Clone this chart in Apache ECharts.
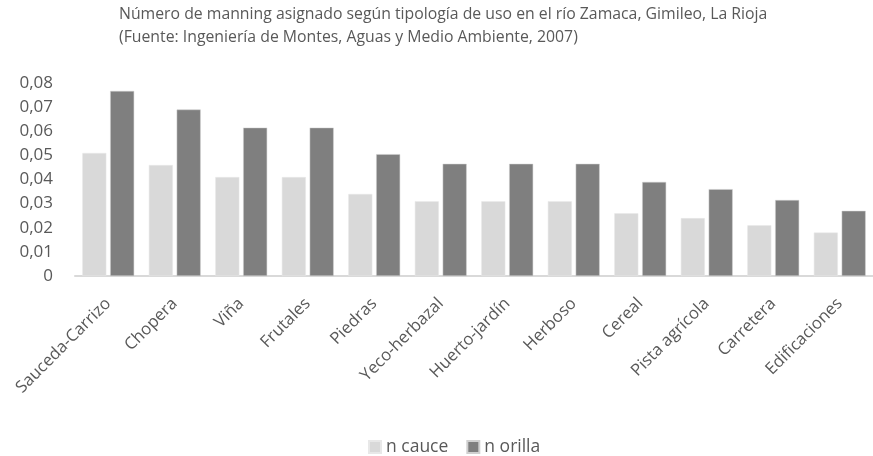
<!DOCTYPE html>
<html>
<head>
<meta charset="utf-8">
<script src="https://cdn.jsdelivr.net/npm/echarts@6/dist/echarts.min.js"></script>
<style>
  html, body { margin: 0; padding: 0; background: #fff; }
  #chart { width: 873px; height: 456px; }
</style>
</head>
<body>
<div id="chart"></div>
<script>
// datos
var categorias = ['Sauceda-Carrizo', 'Chopera', 'Viña', 'Frutales', 'Piedras', 'Yeco-herbazal',
  'Huerto-jardín', 'Herboso', 'Cereal', 'Pista agrícola', 'Carretera', 'Edificaciones'];
var nCauce = [0.051, 0.046, 0.041, 0.041, 0.034, 0.031, 0.031, 0.031, 0.026, 0.024, 0.021, 0.018];
var nOrilla = [0.0767, 0.069, 0.0615, 0.0615, 0.0505, 0.0465, 0.0465, 0.0465, 0.039, 0.036, 0.0315, 0.027];
var yTicks = [0, 0.01, 0.02, 0.03, 0.04, 0.05, 0.06, 0.07, 0.08];

var FONT = '"Open Sans", Lato, sans-serif';
var TXT = '#595959';

var myChart = echarts.init(document.getElementById('chart'));

var option = {
  animation: false,
  textStyle: { fontFamily: FONT },
  title: {
    text: 'Número de manning asignado según tipología de uso en el río Zamaca, Gimileo, La Rioja\n(Fuente: Ingeniería de Montes, Aguas y Medio Ambiente, 2007)',
    left: 114,
    top: -2,
    textStyle: { fontSize: 15.8, fontWeight: 'normal', color: TXT, lineHeight: 23, fontFamily: FONT }
  },
  legend: {
    bottom: -5,
    left: 363,
    itemWidth: 12,
    itemHeight: 12,
    itemGap: 18,
    icon: 'rect',
    textStyle: { fontSize: 17.5, color: TXT, fontFamily: FONT }
  },
  grid: {
    left: 75,
    right: -12,
    top: 83,
    bottom: 180
  },
  xAxis: {
    type: 'category',
    data: categorias,
    axisLine: { lineStyle: { color: '#d9d9d9', width: 2 } },
    axisTick: { show: false },
    axisLabel: {
      rotate: 45,
      interval: 0,
      margin: 25,
      fontSize: 16.7,
      color: TXT,
      fontFamily: FONT
    }
  },
  yAxis: {
    type: 'value',
    min: yTicks[0],
    max: yTicks[yTicks.length - 1],
    interval: 0.01,
    splitLine: { show: false },
    axisLine: { show: false },
    axisTick: { show: false },
    axisLabel: {
      margin: 22,
      fontSize: 17,
      color: TXT,
      fontFamily: FONT,
      formatter: function (v) {
        return v === 0 ? '0' : v.toFixed(2).replace('.', ',');
      }
    }
  },
  series: [
    {
      name: 'n cauce',
      type: 'bar',
      data: nCauce,
      barWidth: 24,
      barGap: '16%',
      itemStyle: { color: '#d9d9d9', borderColor: '#e8e8e8', borderWidth: 0.5 }
    },
    {
      name: 'n orilla',
      type: 'bar',
      data: nOrilla,
      barWidth: 24,
      itemStyle: { color: '#7f7f7f', borderColor: '#d0d0d0', borderWidth: 0.5 }
    }
  ]
};

myChart.setOption(option);
window.addEventListener('resize', function () {
  myChart.resize();
});
</script>
</body>
</html>
